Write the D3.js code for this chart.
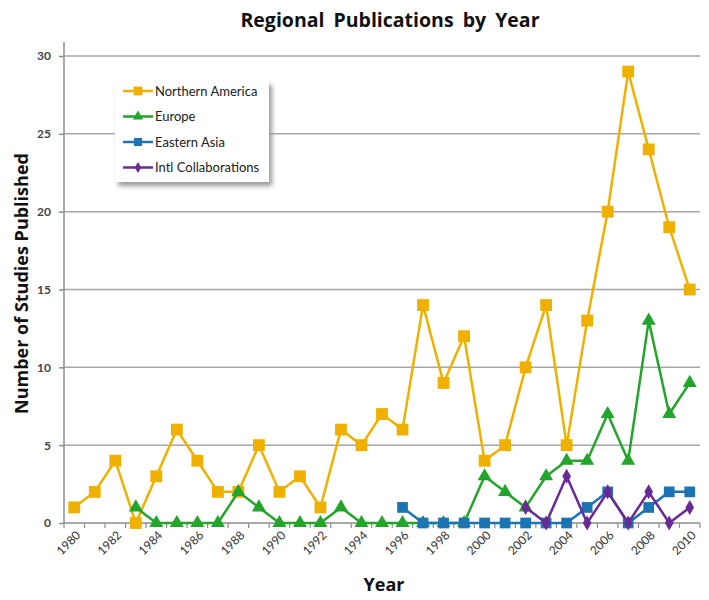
<!DOCTYPE html>
<html>
<head>
<meta charset="utf-8">
<script src="https://cdn.jsdelivr.net/npm/d3@7"></script>
<style>
  body { margin: 0; background: #fff; }
  text { font-family: Lato, "Open Sans", sans-serif; }
</style>
</head>
<body>
<svg id="chart" width="709" height="600"></svg>
<script>
// Data
const years = d3.range(1980, 2011);
const seriesNames = ["Northern America", "Europe", "Eastern Asia", "Intl Collaborations"];
const northernAmerica = [1, 2, 4, 0, 3, 6, 4, 2, 2, 5, 2, 3, 1, 6, 5, 7, 6, 14, 9, 12, 4, 5, 10, 14, 5, 13, 20, 29, 24, 19, 15];
const europe = [null, null, null, 1, 0, 0, 0, 0, 2, 1, 0, 0, 0, 1, 0, 0, 0, 0, 0, 0, 3, 2, 1, 3, 4, 4, 7, 4, 13, 7, 9];
const easternAsia = [null, null, null, null, null, null, null, null, null, null, null, null, null, null, null, null,
    1, 0, 0, 0, 0, 0, 0, 0, 0, 1, 2, 0, 1, 2, 2];
const intlCollab = [null, null, null, null, null, null, null, null, null, null, null, null, null, null, null, null,
    null, null, null, null, null, null, 1, 0, 3, 0, 2, 0, 2, 0, 1];
const yTicks = [0, 5, 10, 15, 20, 25, 30];

const series = [
    { name: seriesNames[0], values: northernAmerica, color: "#EFB000", symbol: d3.symbolSquare, size: 140 },
    { name: seriesNames[1], values: europe, color: "#22A52A", symbol: d3.symbolTriangle, size: 85 },
    { name: seriesNames[2], values: easternAsia, color: "#1C74B4", symbol: d3.symbolSquare, size: 115 },
    { name: seriesNames[3], values: intlCollab, color: "#6A2A96", symbol: d3.symbolDiamond, size: 65 }
];

const svg = d3.select("#chart");
const plotLeft = 64, plotRight = 700, plotTop = 56, plotBottom = 523;

// Scales
const x = d3.scaleBand().domain(years).range([plotLeft, plotRight]).padding(0);
const y = d3.scaleLinear().domain([0, 30]).range([plotBottom, plotTop]);
const cx = yr => x(yr) + x.bandwidth() / 2;

// Title
svg.append("text")
    .attr("x", 390).attr("y", 27)
    .attr("text-anchor", "middle")
    .attr("font-size", 19.5).attr("font-weight", "bold")
    .attr("word-spacing", 4)
    .attr("fill", "#111")
    .style("font-family", "'Open Sans', sans-serif")
    .text("Regional Publications by Year");

// Gridlines
svg.append("g")
    .selectAll("line")
    .data(yTicks.filter(d => d > 0))
    .join("line")
        .attr("x1", plotLeft).attr("x2", plotRight)
        .attr("y1", d => y(d)).attr("y2", d => y(d))
        .attr("stroke", "#a6a6a6")
        .attr("stroke-width", 1.5);

// Y axis
const yAxis = svg.append("g")
    .attr("transform", `translate(${plotLeft},0)`)
    .call(d3.axisLeft(y).tickValues(yTicks).tickSize(5).tickPadding(8));
yAxis.select(".domain").attr("stroke", "#8c8c8c").attr("stroke-width", 1.5)
    .attr("d", `M-0,${plotTop - 14}V${plotBottom}`);
yAxis.selectAll(".tick line").attr("stroke", "#8c8c8c").attr("stroke-width", 1.5);
yAxis.selectAll(".tick text")
    .attr("font-size", 12).attr("font-weight", "bold").attr("fill", "#444")
    .style("font-family", "Lato, sans-serif");

// X axis
const xAxis = svg.append("g");
xAxis.append("line")
    .attr("x1", plotLeft).attr("x2", plotRight)
    .attr("y1", plotBottom).attr("y2", plotBottom)
    .attr("stroke", "#8c8c8c").attr("stroke-width", 1.5);
xAxis.selectAll("line.tick")
    .data(years.concat([2011]))
    .join("line")
        .classed("tick", true)
        .attr("x1", d => d === 2011 ? plotRight : x(d))
        .attr("x2", d => d === 2011 ? plotRight : x(d))
        .attr("y1", plotBottom).attr("y2", plotBottom + 5)
        .attr("stroke", "#8c8c8c").attr("stroke-width", 1.2);
xAxis.selectAll("text")
    .data(years.filter(d => d % 2 === 0))
    .join("text")
        .attr("transform", d => `translate(${cx(d) + 4},${plotBottom + 10}) rotate(-45)`)
        .attr("text-anchor", "end")
        .attr("dy", "0.35em")
        .attr("font-size", 12)
        .attr("fill", "#333")
        .text(d => d);

// Axis titles
svg.append("text")
    .attr("transform", `translate(28,${(plotTop + plotBottom) / 2 - 6}) rotate(-90)`)
    .attr("text-anchor", "middle")
    .attr("font-size", 18).attr("font-weight", "bold")
    .attr("fill", "#111")
    .style("font-family", "'Open Sans', sans-serif")
    .text("Number of Studies Published");
svg.append("text")
    .attr("x", 384).attr("y", 591)
    .attr("text-anchor", "middle")
    .attr("font-size", 18).attr("font-weight", "bold")
    .attr("fill", "#111")
    .style("font-family", "'Open Sans', sans-serif")
    .text("Year");

// Lines and markers
const line = d3.line()
    .defined(d => d.v !== null)
    .x(d => cx(d.year))
    .y(d => y(d.v));

series.forEach(s => {
    const pts = years.map((yr, i) => ({ year: yr, v: s.values[i] }));
    const g = svg.append("g");
    g.append("path")
        .datum(pts)
        .attr("d", line)
        .attr("fill", "none")
        .attr("stroke", s.color)
        .attr("stroke-width", 2.5)
        .attr("stroke-linejoin", "round");
    g.selectAll("path.mark")
        .data(pts.filter(d => d.v !== null))
        .join("path")
            .classed("mark", true)
            .attr("transform", d => `translate(${cx(d.year)},${y(d.v)})`)
            .attr("d", d3.symbol().type(s.symbol).size(s.size))
            .attr("fill", s.color);
});

// Legend
const defs = svg.append("defs");
defs.append("filter").attr("id", "shadow")
    .attr("x", "-20%").attr("y", "-20%").attr("width", "140%").attr("height", "140%")
    .append("feGaussianBlur").attr("stdDeviation", 2.5);

const legend = svg.append("g").attr("transform", "translate(115,81)");
legend.append("rect")
    .attr("x", 3).attr("y", 4)
    .attr("width", 154).attr("height", 101)
    .attr("fill", "#999")
    .attr("filter", "url(#shadow)");
legend.append("rect")
    .attr("width", 154).attr("height", 101)
    .attr("fill", "#fff");

const items = legend.selectAll("g.item")
    .data(series)
    .join("g")
        .classed("item", true)
        .attr("transform", (d, i) => `translate(0,${10 + i * 25.5})`);
items.append("line")
    .attr("x1", 8).attr("x2", 38)
    .attr("stroke", d => d.color)
    .attr("stroke-width", 2.5);
items.append("path")
    .attr("transform", "translate(23,0)")
    .attr("d", d => d3.symbol().type(d.symbol).size(d.size * 0.55)())
    .attr("fill", d => d.color);
items.append("text")
    .attr("x", 40).attr("dy", "0.35em")
    .attr("font-size", 13)
    .attr("fill", "#222")
    .text(d => d.name);
</script>
</body>
</html>
